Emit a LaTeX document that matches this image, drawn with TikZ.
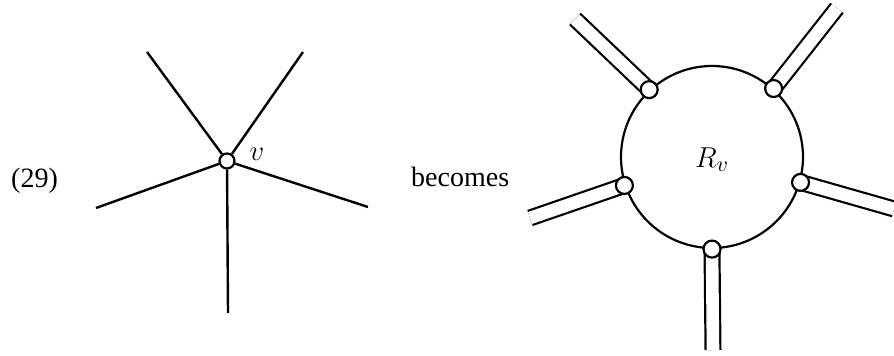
\documentclass[tikz,border=0pt]{standalone}
\usepackage{fontspec}
\setmainfont{Liberation Serif}
\usetikzlibrary{positioning}
\pgfdeclarelayer{back}
\pgfsetlayers{back,main}

\begin{document}
\begin{tikzpicture}[x=0.5pt,y=0.5pt,line width=1.2pt,
  vtx/.style={draw,circle,fill=white,line width=1.1pt,inner sep=0pt,minimum size=7.5pt},
  pipe/.style={double,line width=1.1pt,double distance=6.3pt},
  lbl/.style={font=\fontsize{14}{16}\selectfont,inner sep=0pt}]
  \useasboundingbox (0,0) rectangle (894,356);
  % the vertex v and its five edges
  \node[vtx] (v) at (227,195) {};
  \node[lbl] (vname) at (257,202) {$v$};
  \foreach \n/\x/\y in {1/147/304,2/303/304,3/96/148,4/368/149,5/228/43}{
    \coordinate (s\n) at (\x,\y);
    \draw[line width=1.2pt] (v) -- (s\n);
  }
  \node[lbl,anchor=base west] (num) at (10,168) {(29)};
  \node[lbl,anchor=base west] (becomes) at (410,169) {becomes};
  % the region R_v with its five pipes
  \node[draw,circle,line width=1.1pt,inner sep=0pt,minimum size=91pt] (R) at (712,199) {};
  \node[lbl,font=\fontsize{15}{17}\selectfont] (Rname) at (712,196) {$R_v$};
  \foreach \n/\a/\x/\y in {1/133/575/337,2/48/837/348,3/198/530/138,4/344/894/147,5/270/713/6}{
    \node[vtx,minimum size=8.5pt] (j\n) at (R.\a) {};
    \coordinate (t\n) at (\x,\y);
    \begin{pgfonlayer}{back}
      \draw[pipe] (j\n.center) -- (t\n);
    \end{pgfonlayer}
  }
\end{tikzpicture}
\end{document}
